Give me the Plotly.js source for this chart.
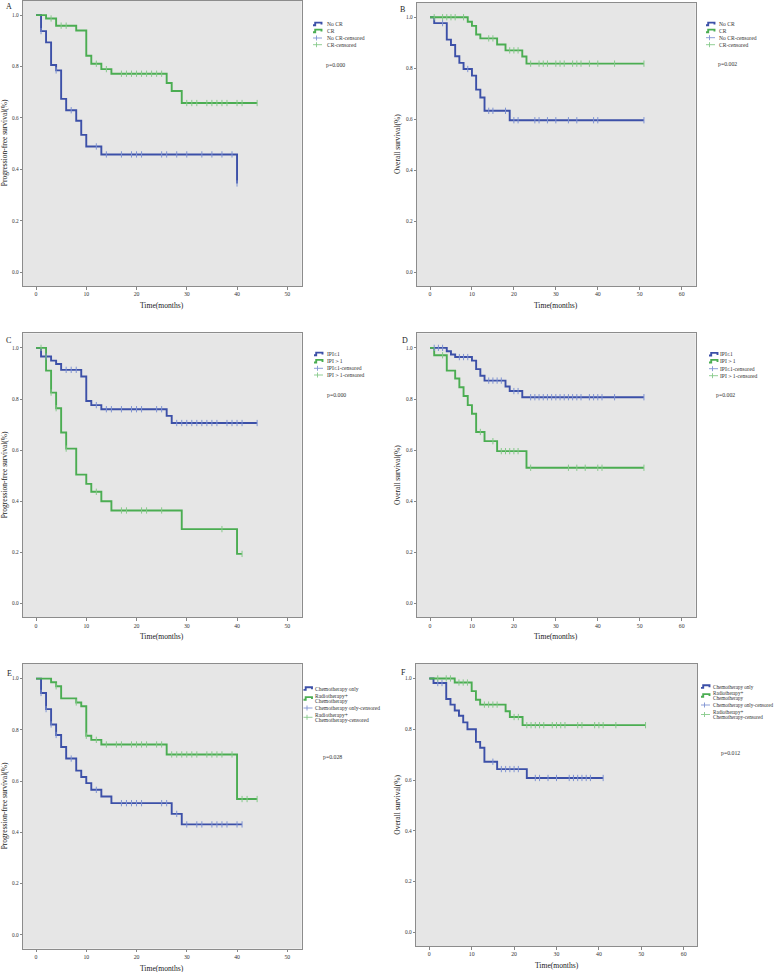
<!DOCTYPE html>
<html>
<head>
<meta charset="utf-8">
<script src="https://cdn.plot.ly/plotly-3.0.1.min.js"></script>
<style>html,body{margin:0;padding:0;background:#fff;}#chart{width:775px;height:972px;}</style>
</head>
<body>
<div id="chart"></div>
<script>
// ---------------- DATA ----------------
const xTicksPFS = [0, 10, 20, 30, 40, 50];
const xTicksOS = [0, 10, 20, 30, 40, 50, 60];
const yTicks = [0, 0.2, 0.4, 0.6, 0.8, 1.0];
const yTickText = ['0.0', '0.2', '0.4', '0.6', '0.8', '1.0'];

const panelLetters = ['A', 'B', 'C', 'D', 'E', 'F'];
const pValues = ['p=0.000', 'p=0.002', 'p=0.000', 'p=0.002', 'p=0.028', 'p=0.012'];
const yTitles = ['Progression-free survival(%)', 'Overall survival(%)',
                 'Progression-free survival(%)', 'Overall survival(%)',
                 'Progression-free survival(%)', 'Overall survival(%)'];
const xTitle = 'Time(months)';

const legendCR = ['No CR', 'CR', 'No CR-censored', 'CR-censored'];
const legendIPI = ['IPI\u22641', 'IPI\uFF1E1', 'IPI\u22641-censored', 'IPI\uFF1E1-censored'];
const legendTx = ['Chemotherapy only', 'Radiotherapy+\nChemotherapy', 'Chemotherapy only-censored', 'Radiotherapy+\nChemotherapy-censored'];

// Panel A: PFS by CR
const A_noCR_t = [0, 1, 2, 3, 4, 5, 6, 8, 9, 10, 13, 40];
const A_noCR_s = [1, 0.938, 0.894, 0.806, 0.785, 0.674, 0.630, 0.589, 0.534, 0.489, 0.458, 0.345];
const A_noCR_c = [1, 4, 7, 12, 14, 17, 19, 20, 21, 25, 26, 28, 30, 33, 35, 37, 39, 40];
const A_CR_t = [0, 2, 4, 8, 10, 11, 13, 15, 26, 27, 29, 44];
const A_CR_s = [1, 0.987, 0.959, 0.940, 0.842, 0.811, 0.790, 0.772, 0.736, 0.705, 0.658, 0.658];
const A_CR_c = [3, 5, 6, 12, 14, 17, 18, 19, 20, 21, 22, 23, 24, 25, 30, 31, 32, 34, 35, 36, 37, 38, 40, 41, 44];

// Panel B: OS by CR
const B_noCR_t = [0, 1, 4, 5, 6, 7, 8, 10, 11, 12, 13, 19, 51];
const B_noCR_s = [1, 0.977, 0.912, 0.891, 0.847, 0.821, 0.797, 0.771, 0.716, 0.685, 0.633, 0.596, 0.596];
const B_noCR_c = [3, 9, 14, 15, 18, 20, 21, 25, 26, 28, 30, 33, 35, 39, 40, 51];
const B_CR_t = [0, 9, 10, 11, 12, 16, 18, 22, 23, 51];
const B_CR_s = [1, 0.982, 0.966, 0.932, 0.917, 0.893, 0.870, 0.846, 0.818, 0.818];
const B_CR_c = [1, 3, 4, 5, 6, 8, 14, 15, 19, 20, 21, 24, 26, 27, 28, 30, 31, 32, 34, 35, 36, 38, 40, 44, 51];

// Panel C: PFS by IPI
const C_low_t = [0, 1, 3, 4, 5, 9, 10, 11, 13, 26, 27, 44];
const C_low_s = [1, 0.966, 0.950, 0.937, 0.914, 0.888, 0.792, 0.776, 0.760, 0.734, 0.706, 0.706];
const C_low_c = [2, 6, 7, 8, 12, 14, 15, 17, 19, 20, 21, 24, 25, 28, 29, 30, 31, 32, 33, 34, 35, 36, 38, 39, 40, 41, 44];
const C_high_t = [0, 2, 3, 4, 5, 6, 8, 10, 11, 13, 15, 29, 40, 41];
const C_high_s = [1, 0.911, 0.825, 0.764, 0.669, 0.606, 0.504, 0.468, 0.437, 0.400, 0.364, 0.291, 0.194, 0.194];
const C_high_c = [1, 3, 4, 6, 12, 17, 18, 21, 22, 25, 37, 41];

// Panel D: OS by IPI
const D_low_t = [0, 4, 5, 6, 10, 11, 12, 13, 18, 19, 22, 51];
const D_low_s = [1, 0.987, 0.974, 0.964, 0.950, 0.917, 0.891, 0.872, 0.849, 0.831, 0.807, 0.807];
const D_low_c = [1, 2, 3, 7, 8, 9, 14, 15, 16, 17, 20, 21, 24, 25, 26, 27, 28, 29, 30, 31, 32, 33, 34, 35, 36, 38, 39, 40, 41, 44, 51];
const D_high_t = [0, 1, 4, 6, 7, 8, 9, 10, 11, 13, 16, 23, 51];
const D_high_s = [1, 0.971, 0.911, 0.880, 0.846, 0.812, 0.776, 0.742, 0.671, 0.635, 0.596, 0.531, 0.531];
const D_high_c = [3, 12, 15, 17, 18, 19, 20, 21, 24, 33, 35, 37, 40, 41, 51];

// Panel E: PFS by treatment
const E_chemo_t = [0, 1, 2, 3, 4, 5, 6, 8, 9, 10, 11, 13, 15, 27, 29, 41];
const E_chemo_s = [1, 0.944, 0.881, 0.821, 0.780, 0.733, 0.688, 0.641, 0.616, 0.592, 0.566, 0.540, 0.514, 0.472, 0.431, 0.431];
const E_chemo_c = [1, 2, 3, 4, 7, 12, 17, 18, 19, 20, 21, 25, 26, 28, 30, 32, 33, 35, 36, 37, 38, 40, 41];
const E_rt_t = [0, 3, 4, 5, 8, 9, 10, 11, 13, 26, 40, 44];
const E_rt_s = [1, 0.986, 0.970, 0.923, 0.907, 0.892, 0.777, 0.761, 0.743, 0.704, 0.530, 0.530];
const E_rt_c = [4, 8, 10, 12, 14, 16, 17, 19, 20, 21, 22, 24, 25, 27, 28, 29, 30, 31, 32, 34, 35, 36, 37, 39, 41, 42, 44];

// Panel F: OS by treatment
const F_chemo_t = [0, 1, 4, 5, 6, 7, 8, 9, 11, 12, 13, 16, 23, 41];
const F_chemo_s = [1, 0.982, 0.919, 0.897, 0.874, 0.853, 0.827, 0.800, 0.750, 0.727, 0.672, 0.643, 0.608, 0.608];
const F_chemo_c = [2, 3, 15, 17, 18, 19, 20, 21, 25, 26, 28, 30, 33, 34, 35, 36, 37, 38, 41];
const F_rt_t = [0, 6, 10, 11, 12, 18, 19, 22, 51];
const F_rt_s = [1, 0.984, 0.950, 0.916, 0.897, 0.871, 0.848, 0.816, 0.816];
const F_rt_c = [2, 4, 5, 7, 8, 9, 13, 14, 15, 16, 20, 21, 23, 24, 25, 26, 27, 29, 30, 31, 32, 35, 36, 39, 40, 41, 44, 51];

// ---------------- STYLE / LAYOUT ----------------
const W = 775, H = 972;
const BLUE = '#3c50a8', GREEN = '#4bad52';
const BLUE_L = '#7f93d2', GREEN_L = '#86c98a';
const FONT = 'Liberation Serif, Times New Roman, serif';
const fx = x => x / W;
const fy = y => 1 - y / H;

const panels = [
  {frame: [22.7, 0.5, 301.7, 286], xr: [-2.65, 52.87], xt: xTicksPFS,
   groups: [[A_noCR_t, A_noCR_s, A_noCR_c], [A_CR_t, A_CR_s, A_CR_c]],
   legend: legendCR, icon: 313, text: 325, rows: [24, 31, 38, 44.7], gap: 5.4, lf: 5.6, p: [324, 65], letter: [4, 6], ytx: 4},
  {frame: [416.7, 2.7, 695.7, 286], xr: [-3.17, 63.34], xt: xTicksOS,
   groups: [[B_noCR_t, B_noCR_s, B_noCR_c], [B_CR_t, B_CR_s, B_CR_c]],
   legend: legendCR, icon: 706, text: 716.7, rows: [24, 31, 37.7, 44.7], gap: 5.4, lf: 5.6, p: [716, 64.3], letter: [398, 9], ytx: 397.7},
  {frame: [22.7, 333.3, 301.7, 617.3], xr: [-2.65, 52.87], xt: xTicksPFS,
   groups: [[C_low_t, C_low_s, C_low_c], [C_high_t, C_high_s, C_high_c]],
   legend: legendIPI, icon: 314, text: 325, rows: [354, 361.3, 368.3, 375], gap: 5.4, lf: 5.6, p: [325, 394.7], letter: [4, 340], ytx: 4},
  {frame: [416.7, 333.3, 695.7, 617.3], xr: [-3.17, 63.34], xt: xTicksOS,
   groups: [[D_low_t, D_low_s, D_low_c], [D_high_t, D_high_s, D_high_c]],
   legend: legendIPI, icon: 709, text: 718.3, rows: [354.3, 361.3, 368.7, 375.7], gap: 5.4, lf: 5.6, p: [714, 395.3], letter: [400, 341], ytx: 397.7},
  {frame: [22.7, 664, 301.7, 948.7], xr: [-2.65, 52.87], xt: xTicksPFS,
   groups: [[E_chemo_t, E_chemo_s, E_chemo_c], [E_rt_t, E_rt_s, E_rt_c]],
   legend: legendTx, icon: 303.5, text: 312.7, rows: [688.7, 698.5, 708, 717.3], gap: 5.3, lf: 5.5, p: [320.7, 757.3], letter: [5, 673], ytx: 4},
  {frame: [415.7, 664, 697.3, 946], xr: [-3.2, 63.2], xt: xTicksOS,
   groups: [[F_chemo_t, F_chemo_s, F_chemo_c], [F_rt_t, F_rt_s, F_rt_c]],
   legend: legendTx, icon: 701, text: 710.5, rows: [686.7, 695.5, 705, 714.5], gap: 5.5, lf: 5.1, p: [719.3, 753.3], letter: [399, 672], ytx: 396.7}
];

function survAt(t, s, time) {
  let v = s[0];
  for (let i = 0; i < t.length; i++) { if (t[i] <= time) v = s[i]; }
  return v;
}

const traces = [];
const layout = {
  width: W, height: H,
  margin: {l: 0, r: 0, t: 0, b: 0},
  paper_bgcolor: '#ffffff', plot_bgcolor: '#e6e6e6',
  showlegend: false,
  font: {family: FONT, color: '#222'},
  annotations: [], shapes: []
};

const colors = [[BLUE, BLUE_L], [GREEN, GREEN_L]];

panels.forEach((P, i) => {
  const k = i === 0 ? '' : String(i + 1);
  const xa = 'x' + k, ya = 'y' + k;
  const [x0, y0, x1, y1] = P.frame;
  layout['xaxis' + k] = {
    domain: [fx(x0), fx(x1)], anchor: ya, range: P.xr,
    tickvals: P.xt, ticktext: P.xt.map(String), ticks: 'outside', ticklen: 2.5, tickwidth: 0.8, tickcolor: '#666',
    tickfont: {family: FONT, size: 5.8, color: '#333'},
    showline: true, mirror: true, linecolor: '#8c8c8c', linewidth: 1,
    showgrid: false, zeroline: false, fixedrange: true
  };
  layout['yaxis' + k] = {
    domain: [fy(y1), fy(y0)], anchor: xa, range: [-0.054, 1.057],
    tickvals: yTicks, ticktext: yTickText, ticks: 'outside', ticklen: 2, tickwidth: 0.8, tickcolor: '#666',
    tickfont: {family: FONT, size: 5.3, color: '#333'},
    showline: true, mirror: true, linecolor: '#8c8c8c', linewidth: 1,
    showgrid: false, zeroline: false, fixedrange: true
  };

  P.groups.forEach((g, gi) => {
    const [t, s] = g;
    traces.push({x: t, y: s, xaxis: xa, yaxis: ya, mode: 'lines', type: 'scatter',
      line: {shape: 'hv', color: colors[gi][0], width: 1.9}, hoverinfo: 'skip'});
  });
  P.groups.forEach((g, gi) => {
    const [t, s, c] = g;
    traces.push({x: c, y: c.map(v => survAt(t, s, v)), xaxis: xa, yaxis: ya, mode: 'markers', type: 'scatter',
      marker: {symbol: 'line-ns-open', size: 4.5, color: colors[gi][1], line: {width: 1, color: colors[gi][1]}},
      hoverinfo: 'skip'});
  });

  layout.annotations.push({xref: 'paper', yref: 'paper', x: fx(P.letter[0]), y: fy(P.letter[1]),
    xanchor: 'left', yanchor: 'middle', text: panelLetters[i], showarrow: false,
    font: {family: FONT, size: 8, color: '#222'}});
  layout.annotations.push({xref: 'paper', yref: 'paper', x: fx((x0 + x1) / 2), y: fy(y1 + 19.5),
    xanchor: 'center', yanchor: 'middle', text: xTitle, showarrow: false,
    font: {family: FONT, size: 7.6, color: '#222'}});
  layout.annotations.push({xref: 'paper', yref: 'paper', x: fx(P.ytx), y: fy((y0 + y1) / 2),
    xanchor: 'center', yanchor: 'middle', text: yTitles[i], textangle: -90, showarrow: false,
    font: {family: FONT, size: 7.5, color: '#222'}});
  layout.annotations.push({xref: 'paper', yref: 'paper', x: fx(P.p[0]), y: fy(P.p[1]),
    xanchor: 'left', yanchor: 'middle', text: pValues[i], showarrow: false,
    font: {family: FONT, size: 5.8, color: '#333'}});

  P.legend.forEach((lab, li) => {
    const yc = P.rows[li];
    const lines = lab.split('\n');
    lines.forEach((ln, j) => {
      const yy = yc + (j - (lines.length - 1) / 2) * P.gap;
      layout.annotations.push({xref: 'paper', yref: 'paper', x: fx(P.text), y: fy(yy),
        xanchor: 'left', yanchor: 'middle', text: ln, showarrow: false,
        font: {family: FONT, size: P.lf, color: '#333'}});
    });
    const ic = P.icon;
    const col = colors[li % 2];
    if (li < 2) {
      const path = `M ${fx(ic)} ${fy(yc + 1.2)} H ${fx(ic + 2.2)} V ${fy(yc - 1.4)} H ${fx(ic + 8.5)} V ${fy(yc + 0.6)}`;
      layout.shapes.push({type: 'path', xref: 'paper', yref: 'paper', path: path,
        line: {color: col[0], width: 1.9}});
    } else {
      layout.shapes.push({type: 'line', xref: 'paper', yref: 'paper', x0: fx(ic), x1: fx(ic + 9), y0: fy(yc), y1: fy(yc),
        line: {color: col[1], width: 0.9}});
      layout.shapes.push({type: 'line', xref: 'paper', yref: 'paper', x0: fx(ic + 3.5), x1: fx(ic + 3.5), y0: fy(yc - 2.5), y1: fy(yc + 2.5),
        line: {color: col[1], width: 0.9}});
    }
  });
});

Plotly.newPlot('chart', traces, layout, {staticPlot: true, displayModeBar: false});
</script>
</body>
</html>
